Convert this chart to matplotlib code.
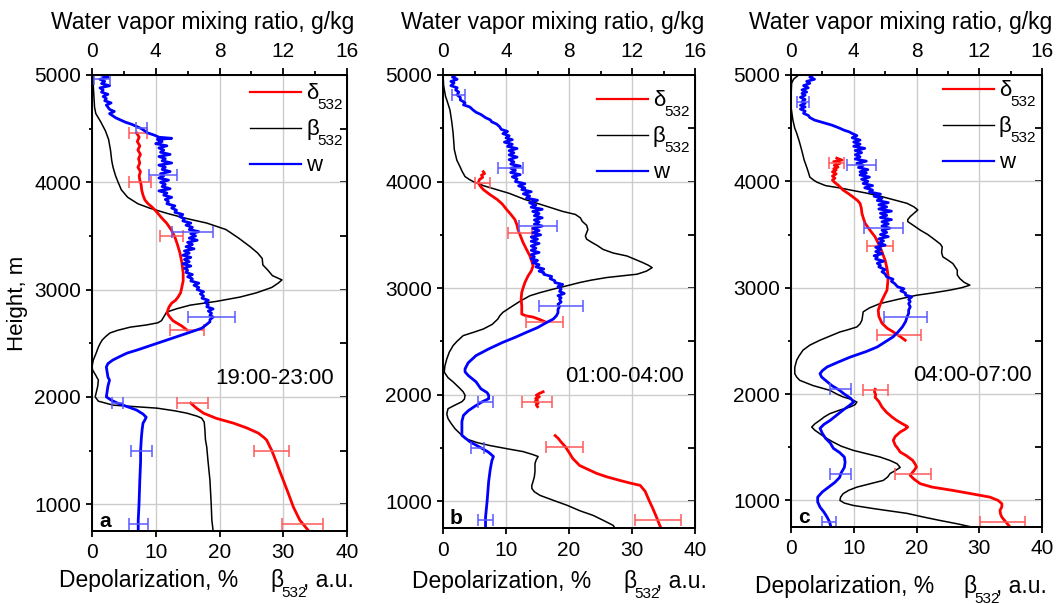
import matplotlib
matplotlib.use("Agg")
import matplotlib.pyplot as plt
from matplotlib.lines import Line2D

plt.rcParams['font.family'] = ['Liberation Sans', 'DejaVu Sans']

# ---------------- panel a (19:00-23:00) ----------------
a_beta_h = [5000, 4900, 4800, 4700, 4640, 4560, 4480, 4400, 4300, 4200, 4140, 4060, 4000, 3930, 3860, 3800,
            3760, 3710, 3660, 3620, 3560, 3480, 3400, 3340, 3290, 3230, 3180, 3130, 3090, 3060, 3020, 2970,
            2930, 2890, 2855, 2820, 2790, 2760, 2740, 2710, 2690, 2670, 2650, 2620, 2595, 2560, 2530, 2500,
            2464, 2400, 2343, 2280, 2250, 2200, 2156, 2100, 2050, 2000, 1960, 1923, 1895, 1870, 1848, 1820,
            1802, 1765, 1700, 1600, 1532, 1400, 1224, 1000, 851, 750]
a_beta = [0.2, 0.2, 0.3, 0.4, 0.6, 1.4, 2.1, 2.6, 2.9, 3.1, 3.3, 3.7, 4.1, 4.6, 5.6, 7.2,
          9.0, 11.8, 15.0, 18.0, 21.0, 23.0, 24.8, 26.0, 26.7, 26.8, 27.6, 28.3, 29.8, 29.2, 28.2, 25.8,
          23.2, 19.5, 15.4, 13.2, 11.7, 11.4, 11.2, 10.9, 10.3, 8.5, 6.0, 4.0, 2.8, 2.1, 1.6, 1.3,
          1.0, 0.6, 0.2, 0.0, 0.1, 0.6, 1.0, 0.9, 0.7, 0.5, 1.0, 3.3, 10.2, 13.0, 14.9, 16.5,
          17.2, 17.6, 17.7, 17.8, 18.0, 18.2, 18.5, 18.7, 18.8, 19.0]

a_dep1_h = [4459, 4420, 4380, 4340, 4300, 4260, 4220, 4180, 4140, 4100, 4060, 4021, 3980, 3928, 3880, 3835,
            3800, 3770, 3740, 3713, 3670, 3620, 3560, 3490, 3420, 3340, 3250, 3154, 3080, 3024, 2970, 2930,
            2900, 2874, 2840, 2809, 2780, 2744, 2710, 2688, 2660, 2623]
a_dep1 = [7.0, 7.4, 7.1, 7.5, 7.2, 7.6, 7.3, 7.5, 7.2, 7.6, 7.4, 7.5, 7.7, 7.8, 8.0, 8.3,
          8.8, 9.4, 9.9, 10.3, 10.9, 11.7, 12.4, 13.0, 13.4, 13.8, 14.1, 14.3, 14.3, 14.1, 13.9, 13.5,
          13.1, 12.5, 12.1, 11.9, 11.8, 12.2, 12.7, 13.3, 14.1, 14.9]
a_dep2_h = [1942, 1920, 1890, 1848, 1800, 1755, 1710, 1662, 1620, 1597, 1500, 1380, 1300, 1224, 1100, 972, 851, 750]
a_dep2 = [15.5, 15.9, 16.5, 17.5, 19.5, 22.2, 24.3, 26.1, 27.0, 27.4, 28.2, 29.0, 29.5, 30.0, 30.8, 31.6, 32.6, 34.0]

a_w_h = [5000, 4980, 4960, 4940, 4920, 4900, 4880, 4860, 4840, 4820, 4800, 4780, 4760, 4740, 4720, 4700,
         4680, 4660, 4640, 4620, 4600, 4580, 4560, 4540, 4520, 4500, 4480, 4460, 4440, 4420, 4410, 4400,
         4380, 4360, 4340, 4320, 4300, 4280, 4260, 4240, 4220, 4200, 4180, 4160, 4140, 4120, 4100, 4080,
         4060, 4040, 4020, 4000, 3980, 3960, 3940, 3920, 3900, 3880, 3860, 3840, 3820, 3800, 3780, 3760,
         3740, 3720, 3700, 3680, 3660, 3640, 3620, 3600, 3580, 3560, 3540, 3520, 3500, 3480, 3460, 3440,
         3420, 3400, 3380, 3360, 3340, 3320, 3300, 3280, 3260, 3240, 3220, 3200, 3180, 3160, 3140, 3120,
         3100, 3080, 3060, 3040, 3020, 3000, 2980, 2960, 2940, 2920, 2900, 2880, 2860, 2840, 2820, 2800,
         2780, 2760, 2744, 2720, 2700, 2688, 2665, 2641, 2620, 2595, 2560, 2530, 2500, 2464, 2440, 2408,
         2380, 2343, 2310, 2278, 2230, 2185, 2156, 2100, 2050, 2000, 1970, 1942, 1910, 1877, 1840, 1811,
         1780, 1755, 1700, 1625, 1500, 1400, 1224, 1000, 850, 750]
a_w = [0.6, 1.0, 0.5, 0.8, 0.6, 1.1, 0.5, 0.7, 0.6, 1.0, 0.7, 0.9, 0.8, 1.2, 0.9, 1.0,
       1.1, 1.4, 1.1, 1.3, 1.5, 1.8, 2.1, 2.5, 2.8, 3.1, 3.3, 3.5, 3.9, 4.2, 5.0, 4.1,
       4.4, 4.0, 4.7, 4.2, 4.5, 4.3, 4.9, 4.2, 4.6, 4.4, 5.0, 4.2, 4.6, 4.4, 4.9, 4.3,
       4.5, 4.2, 4.8, 4.3, 4.6, 4.4, 4.9, 4.2, 4.7, 4.5, 5.0, 4.6, 4.8, 4.7, 5.2, 5.0,
       5.3, 5.2, 5.7, 5.5, 5.8, 5.7, 6.2, 5.9, 6.3, 6.1, 6.7, 6.2, 6.5, 6.1, 6.6, 6.0,
       6.3, 5.9, 6.4, 5.8, 6.1, 5.7, 6.2, 5.8, 6.1, 5.7, 6.2, 5.8, 6.0, 5.9, 6.3, 6.0,
       6.3, 6.2, 6.7, 6.4, 6.7, 6.6, 7.0, 6.8, 7.0, 6.9, 7.3, 7.1, 7.3, 7.2, 7.6, 7.3,
       7.5, 7.4, 7.6, 7.4, 7.4, 7.3, 7.1, 6.9, 6.5, 6.0, 5.3, 4.7, 4.1, 3.4, 2.9, 2.2,
       1.8, 1.3, 1.0, 0.9, 0.95, 1.0, 1.1, 1.0, 0.95, 0.9, 1.2, 1.6, 2.2, 2.8, 3.2, 3.4,
       3.3, 3.2, 3.15, 3.1, 3.05, 3.05, 3.0, 2.95, 2.9, 2.9]

a_dep_err_h = [4459, 4000, 3500, 2623, 1942, 1494, 813]
a_dep_err_x = [7.2, 7.5, 12.5, 14.9, 15.8, 28.1, 33.0]
a_dep_err_dx = [1.4, 1.7, 1.8, 2.7, 2.4, 2.75, 3.2]
a_w_err_h = [4960, 4506, 4068, 3536, 2744, 1942, 1494, 813]
a_w_err_x = [0.6, 3.1, 4.45, 6.3, 7.5, 1.6, 3.1, 2.9]
a_w_err_dx = [0.5, 0.35, 0.87, 1.3, 1.45, 0.33, 0.65, 0.6]

# ---------------- panel b (01:00-04:00) ----------------
b_beta_h = [5000, 4900, 4800, 4766, 4673, 4557, 4457, 4299, 4200, 4140, 4100, 4047, 4019, 4000, 3960, 3925,
            3890, 3832, 3769, 3720, 3692, 3660, 3627, 3590, 3551, 3520, 3489, 3460, 3430, 3400, 3364, 3330,
            3302, 3270, 3240, 3215, 3193, 3160, 3131, 3100, 3075, 3053, 3020, 2991, 2960, 2929, 2880, 2835,
            2800, 2773, 2740, 2710, 2660, 2617, 2585, 2555, 2500, 2461, 2400, 2336, 2270, 2212, 2160, 2121,
            2070, 2028, 1995, 1960, 1935, 1900, 1869, 1820, 1776, 1730, 1682, 1630, 1589, 1550, 1523, 1490,
            1467, 1440, 1421, 1390, 1355, 1300, 1280, 1230, 1187, 1150, 1121, 1090, 1056, 1010, 963, 910,
            869, 820, 775, 750]
b_beta = [0.0, 0.1, 0.4, 0.6, 1.1, 1.4, 1.6, 1.8, 2.2, 2.7, 3.0, 3.5, 4.2, 4.8, 6.5, 8.5,
          10.5, 13.0, 16.4, 19.0, 21.0, 21.8, 22.1, 22.8, 23.0, 22.8, 22.6, 22.8, 23.6, 24.5, 25.4, 27.0,
          29.2, 30.5, 31.7, 32.6, 33.2, 32.3, 30.8, 26.0, 23.5, 21.7, 19.5, 17.5, 15.5, 13.8, 12.3, 11.1,
          10.2, 9.5, 9.0, 8.7, 7.8, 6.4, 4.8, 3.2, 2.2, 1.6, 1.0, 0.6, 0.3, 0.2, 0.8, 1.6,
          2.5, 3.2, 3.5, 3.4, 3.0, 1.8, 0.8, 0.6, 0.8, 1.3, 1.9, 2.8, 3.5, 5.5, 7.5, 10.5,
          12.7, 14.2, 15.1, 14.8, 14.6, 14.6, 14.6, 14.5, 14.3, 14.1, 14.1, 14.5, 15.4, 17.5, 19.7, 21.8,
          23.8, 25.5, 27.0, 27.3]

b_dep1_h = [4093, 4075, 4060, 4040, 4020, 3990, 3960, 3925, 3880, 3832, 3790, 3738, 3690, 3645, 3600, 3551,
            3490, 3430, 3370, 3302, 3250, 3208, 3160, 3115, 3053, 3000, 2960, 2900, 2835, 2790, 2757, 2740,
            2729, 2705, 2680]
b_dep1 = [6.4, 6.6, 6.1, 6.3, 5.8, 5.6, 5.9, 6.4, 7.4, 8.6, 9.4, 10.1, 10.8, 11.4, 11.7, 11.9,
          12.3, 12.7, 13.2, 13.8, 14.1, 14.3, 14.0, 13.5, 13.0, 12.7, 12.5, 12.4, 12.5, 12.5, 12.5, 13.2,
          14.3, 15.4, 16.4]
b_dep2_h = [2028, 2010, 1995, 1980, 1965, 1950, 1935, 1920, 1905, 1888]
b_dep2 = [15.9, 15.2, 14.8, 15.3, 14.7, 15.0, 14.6, 15.1, 14.8, 15.0]
b_dep3_h = [1617, 1590, 1560, 1514, 1460, 1402, 1336, 1300, 1262, 1230, 1196, 1170, 1150, 1093, 1010, 934,
            850, 775, 750]
b_dep3 = [17.8, 18.3, 18.7, 19.4, 20.0, 20.6, 21.7, 23.0, 24.4, 26.0, 28.1, 29.8, 31.3, 32.1, 32.7, 33.3,
          33.9, 34.4, 34.6]

b_w_h = [5000, 4980, 4960, 4940, 4925, 4900, 4880, 4860, 4840, 4813, 4790, 4766, 4740, 4720, 4700, 4673,
         4650, 4630, 4600, 4579, 4560, 4540, 4514, 4490, 4470, 4450, 4430, 4410, 4393, 4370, 4350, 4330,
         4310, 4290, 4270, 4250, 4230, 4206, 4185, 4165, 4145, 4125, 4105, 4085, 4065, 4045, 4025, 4000,
         3980, 3960, 3940, 3925, 3905, 3885, 3865, 3845, 3825, 3801, 3780, 3760, 3740, 3720, 3700, 3680,
         3660, 3640, 3620, 3600, 3583, 3560, 3540, 3520, 3500, 3480, 3460, 3440, 3420, 3396, 3375, 3355,
         3335, 3315, 3295, 3275, 3260, 3240, 3220, 3200, 3180, 3160, 3146, 3130, 3110, 3090, 3070, 3053,
         3035, 3015, 2991, 2970, 2950, 2930, 2910, 2897, 2870, 2850, 2830, 2800, 2770, 2741, 2710, 2680,
         2630, 2586, 2540, 2492, 2430, 2368, 2300, 2243, 2215, 2181, 2121, 2057, 2020, 1995, 1963, 1935,
         1890, 1850, 1807, 1750, 1680, 1620, 1560, 1520, 1495, 1460, 1421, 1380, 1300, 1187, 1000, 850, 750]
b_w = [0.8, 0.6, 0.9, 0.5, 0.7, 0.5, 0.9, 0.8, 1.0, 0.9, 1.1, 1.1, 1.4, 1.3, 1.7, 1.9,
       2.1, 2.4, 2.7, 3.0, 3.1, 3.4, 3.6, 3.7, 4.1, 3.8, 4.2, 4.0, 4.4, 3.9, 4.4, 4.1,
       4.7, 4.2, 4.5, 4.2, 4.7, 4.2, 4.5, 4.3, 4.9, 4.3, 4.6, 4.3, 4.9, 4.4, 4.7, 4.6,
       5.2, 4.8, 5.2, 5.0, 5.6, 5.1, 5.5, 5.3, 6.0, 5.5, 5.9, 5.6, 6.3, 5.7, 6.1, 5.8,
       6.3, 5.8, 6.1, 5.8, 6.3, 5.7, 6.1, 5.7, 6.2, 5.6, 6.0, 5.6, 6.1, 5.6, 5.9, 5.6,
       6.1, 5.6, 5.8, 5.6, 6.0, 5.7, 6.1, 5.9, 6.4, 6.1, 6.4, 6.4, 6.9, 6.8, 7.1, 7.1,
       7.6, 7.3, 7.5, 7.4, 7.7, 7.3, 7.5, 7.4, 7.5, 7.3, 7.4, 7.3, 7.3, 7.2, 7.0, 6.6,
       6.0, 5.3, 4.6, 3.8, 2.9, 2.1, 1.6, 1.4, 1.4, 1.6, 2.1, 2.4, 2.8, 2.9, 2.9, 2.5,
       2.0, 1.6, 1.3, 1.2, 1.2, 1.2, 1.7, 2.2, 2.5, 2.9, 3.2, 3.1, 3.0, 2.9, 2.8, 2.7, 2.7]

b_dep_err_h = [3990, 3520, 2680, 1935, 1514, 822]
b_dep_err_x = [6.3, 12.2, 16.1, 14.9, 19.3, 34.1]
b_dep_err_dx = [1.2, 1.9, 2.9, 2.4, 2.95, 3.6]
b_w_err_h = [4813, 4130, 3583, 2835, 1935, 1504, 822]
b_w_err_x = [1.0, 4.3, 6.05, 7.5, 2.7, 2.2, 2.7]
b_w_err_dx = [0.4, 0.8, 1.2, 1.4, 0.5, 0.4, 0.5]

# ---------------- panel c (04:00-07:00) ----------------
c_beta_h = [5000, 4960, 4922, 4800, 4700, 4576, 4500, 4454, 4380, 4294, 4200, 4134, 4080, 4040, 4012, 3993,
            3960, 3936, 3918, 3890, 3856, 3820, 3793, 3760, 3731, 3700, 3669, 3640, 3622, 3590, 3541, 3500,
            3447, 3410, 3384, 3330, 3290, 3260, 3227, 3165, 3120, 3086, 3050, 3024, 3000, 2977, 2950, 2929,
            2890, 2851, 2810, 2773, 2730, 2694, 2660, 2631, 2600, 2584, 2540, 2506, 2460, 2412, 2360, 2318,
            2250, 2192, 2160, 2129, 2080, 2035, 2000, 1973, 1950, 1925, 1900, 1878, 1850, 1816, 1785, 1753,
            1720, 1690, 1660, 1627, 1590, 1549, 1510, 1471, 1440, 1408, 1375, 1345, 1310, 1280, 1253, 1220,
            1188, 1155, 1125, 1095, 1063, 1030, 1000, 975, 953, 920, 878, 845, 812, 780, 750]
c_beta = [1.2, 0.4, 0.1, 0.0, 0.0, 0.3, 0.6, 0.9, 1.3, 1.7, 2.1, 2.5, 2.8, 3.0, 3.6, 4.1,
          5.5, 8.0, 9.5, 12.0, 14.5, 16.8, 18.5, 19.6, 20.2, 19.6, 19.0, 18.6, 18.6, 19.4, 20.6, 21.8,
          23.0, 23.8, 24.1, 24.0, 24.2, 25.0, 25.8, 26.5, 26.5, 26.9, 27.6, 28.5, 27.2, 25.3, 22.5, 20.0,
          17.0, 14.2, 12.5, 11.5, 11.4, 11.3, 11.0, 10.5, 8.8, 7.8, 6.0, 4.6, 3.0, 1.9, 1.3, 0.9,
          0.6, 0.6, 0.9, 1.4, 3.5, 6.2, 7.3, 8.3, 9.6, 10.5, 10.2, 9.4, 7.8, 6.2, 5.3, 4.6,
          3.8, 3.3, 3.8, 4.6, 5.5, 6.7, 8.0, 9.9, 12.0, 14.2, 15.8, 16.9, 17.4, 16.6, 15.8, 15.4,
          14.7, 12.5, 10.5, 9.2, 8.3, 7.9, 7.8, 8.5, 9.9, 13.5, 18.5, 21.0, 23.7, 26.5, 28.8]

c_dep1_h = [4218, 4200, 4185, 4169, 4150, 4134, 4118, 4106, 4090, 4070, 4050, 4030, 4012, 3993, 3960, 3918,
            3887, 3852, 3820, 3793, 3750, 3700, 3660, 3606, 3540, 3478, 3430, 3384, 3320, 3259, 3180, 3102,
            3040, 2977, 2930, 2882, 2840, 2788, 2730, 2666, 2620, 2584, 2545, 2506]
c_dep1 = [7.3, 8.1, 6.8, 7.8, 6.9, 7.5, 6.8, 7.2, 6.6, 7.2, 6.6, 7.0, 6.6, 6.9, 7.6, 8.3,
          9.1, 9.9, 10.6, 11.0, 11.2, 11.3, 11.5, 11.8, 12.6, 13.4, 13.8, 14.2, 14.6, 15.0, 15.3, 15.5,
          15.4, 15.3, 14.9, 14.5, 14.2, 13.9, 14.0, 14.5, 15.3, 16.3, 17.3, 18.2]
c_dep2_h = [2045, 2020, 1995, 1970, 1930, 1878, 1830, 1784, 1750, 1722, 1700, 1690, 1670, 1643, 1600, 1565,
            1520, 1490, 1455, 1420, 1376, 1340, 1314, 1280, 1260, 1235, 1200, 1157, 1125, 1094, 1060, 1031,
            1000, 969, 940, 906, 870, 843, 800, 750]
c_dep2 = [13.4, 13.3, 13.5, 13.4, 14.0, 14.5, 15.2, 16.1, 16.9, 17.7, 18.4, 18.6, 18.2, 17.4, 16.6, 16.3,
          16.6, 17.0, 17.4, 18.4, 19.4, 19.8, 20.0, 19.6, 19.3, 19.0, 19.6, 20.6, 22.5, 25.8, 29.0, 31.7,
          33.0, 33.6, 33.6, 33.3, 33.4, 33.6, 34.2, 34.9]

c_w_h = [5000, 4980, 4960, 4940, 4922, 4900, 4880, 4860, 4840, 4827, 4810, 4790, 4770, 4749, 4733, 4715,
         4700, 4680, 4660, 4640, 4620, 4600, 4576, 4555, 4529, 4500, 4480, 4466, 4450, 4430, 4410, 4388,
         4370, 4350, 4330, 4310, 4290, 4270, 4250, 4231, 4210, 4190, 4170, 4150, 4130, 4110, 4090, 4078,
         4060, 4040, 4020, 4000, 3980, 3960, 3940, 3918, 3900, 3880, 3860, 3840, 3820, 3800, 3780, 3760,
         3740, 3720, 3700, 3680, 3660, 3640, 3620, 3600, 3580, 3560, 3540, 3520, 3500, 3480, 3460, 3440,
         3419, 3400, 3380, 3360, 3340, 3320, 3300, 3290, 3270, 3250, 3230, 3210, 3196, 3170, 3150, 3130,
         3102, 3080, 3060, 3040, 3008, 2990, 2970, 2950, 2930, 2914, 2890, 2870, 2850, 2820, 2790, 2760,
         2725, 2680, 2631, 2580, 2537, 2490, 2443, 2400, 2349, 2300, 2255, 2220, 2192, 2160, 2129, 2080,
         2035, 2000, 1960, 1925, 1890, 1847, 1800, 1753, 1715, 1678, 1630, 1584, 1540, 1490, 1450, 1408,
         1360, 1310, 1260, 1216, 1170, 1125, 1080, 1031, 985, 937, 890, 843, 800, 750]
c_w = [1.4, 1.2, 1.5, 1.0, 1.2, 0.8, 1.1, 0.7, 1.0, 0.7, 0.9, 0.6, 0.9, 0.7, 0.9, 0.6,
       0.9, 0.6, 0.9, 0.8, 1.1, 1.2, 1.5, 2.0, 2.6, 3.1, 3.4, 3.7, 3.9, 4.2, 3.9, 4.4,
       4.0, 4.4, 4.0, 4.7, 4.1, 4.5, 4.1, 4.4, 4.1, 4.8, 4.2, 4.6, 4.3, 4.9, 4.4, 4.8,
       4.4, 5.0, 4.5, 4.9, 4.6, 5.2, 4.7, 5.2, 5.0, 5.7, 5.3, 5.8, 5.5, 6.2, 5.6, 6.1,
       5.6, 6.4, 5.7, 6.1, 5.7, 6.4, 5.8, 6.2, 5.8, 6.3, 5.8, 6.1, 5.7, 6.2, 5.6, 5.9,
       5.6, 6.0, 5.4, 5.7, 5.4, 5.8, 5.3, 5.5, 5.4, 5.9, 5.5, 5.7, 5.6, 6.0, 5.8, 6.0,
       6.1, 6.5, 6.4, 6.6, 6.8, 7.2, 7.0, 7.3, 7.3, 7.7, 7.5, 7.6, 7.5, 7.6, 7.5, 7.5,
       7.4, 7.3, 7.1, 6.8, 6.5, 6.0, 5.5, 4.8, 3.8, 3.0, 2.3, 2.0, 1.85, 1.95, 2.2, 2.6,
       3.1, 3.4, 3.8, 4.0, 3.7, 3.3, 2.9, 2.5, 2.1, 1.85, 2.0, 2.2, 2.5, 2.7, 3.1, 3.4,
       3.45, 3.4, 3.2, 3.1, 2.8, 2.4, 2.0, 1.7, 1.7, 1.85, 2.1, 2.3, 2.45, 2.55]

c_dep_err_h = [4169, 3394, 2553, 2035, 1245, 793]
c_dep_err_x = [7.3, 14.2, 17.2, 13.5, 19.4, 33.7]
c_dep_err_dx = [1.2, 2.1, 3.5, 2.0, 2.85, 3.6]
c_w_err_h = [4749, 4153, 3560, 2725, 2045, 1253, 793]
c_w_err_x = [0.77, 4.5, 5.9, 7.3, 3.15, 3.15, 2.45]
c_w_err_dx = [0.4, 0.9, 1.25, 1.4, 0.65, 0.65, 0.45]

W, H = 1056, 604
fig = plt.figure(figsize=(W / 100, H / 100), dpi=100)


def fx(x):
    return x / W


def fy(y):
    return 1 - y / H


def px(l, r, t, b):
    return [l / W, 1 - b / H, (r - l) / W, (b - t) / H]


def legend(x0, y0):
    # hand-made legend so that the subscripts sit low like in the original
    entries = [('red', 1.6, 'δ', '532', 0), ('black', 1.0, 'β', '532', 36), ('#0000ff', 1.6, 'w', None, 72)]
    for color, lw, main, sub, dy in entries:
        yl = y0 + dy
        fig.add_artist(Line2D([fx(x0), fx(x0 + 51)], [fy(yl), fy(yl)], color=color, linewidth=lw))
        fig.text(fx(x0 + 56), fy(yl + 7), main, fontsize=16, va='baseline', ha='left')
        if sub:
            fig.text(fx(x0 + 67), fy(yl + 17), sub, fontsize=11, va='baseline', ha='left')


def panel(rect, beta_h, beta, dep_segs, w_h, w, dep_err, w_err, time_label, letter, show_ylabel):
    ax = fig.add_axes(rect)
    ax.set_xlim(0, 40)
    ax.set_ylim(750, 5000)
    ax.set_xticks([0, 10, 20, 30, 40])
    ax.set_yticks([1000, 2000, 3000, 4000, 5000])
    ax.set_yticks([1500, 2500, 3500, 4500], minor=True)
    ax.grid(True, color='#cccccc', linewidth=1.0)
    ax.set_axisbelow(True)
    for s in ax.spines.values():
        s.set_linewidth(1.3)
    ax.tick_params(axis='x', which='major', direction='out', length=4, width=1.3, labelsize=15, pad=5)
    ax.tick_params(axis='y', which='major', direction='out', length=4, width=1.3, labelsize=15, pad=4)
    ax.tick_params(axis='y', which='minor', direction='out', length=2.5, width=1.3)
    right = ax.secondary_yaxis('right')
    right.set_yticks([1000, 2000, 3000, 4000, 5000])
    right.set_yticks([1500, 2500, 3500, 4500], minor=True)
    right.tick_params(which='both', direction='in', length=5, width=1.3, labelright=False)

    ax.plot(beta, beta_h, color='black', linewidth=1.1)
    for xs, hs in dep_segs:
        ax.plot(xs, hs, color='red', linewidth=2.0)
    ax.errorbar(dep_err[1], dep_err[0], xerr=dep_err[2], fmt='none', ecolor=(1, 0.35, 0.35),
                elinewidth=1.1, capsize=4, capthick=1.1)

    ax2 = ax.twiny()
    ax2.set_xlim(0, 16)
    ax2.set_xticks([0, 4, 8, 12, 16])
    ax2.set_xticks([2, 6, 10, 14], minor=True)
    ax2.tick_params(axis='x', which='major', direction='out', length=5, width=1.3, labelsize=15, pad=5)
    ax2.tick_params(axis='x', which='minor', direction='out', length=3, width=1.3)
    for s in ax2.spines.values():
        s.set_linewidth(1.3)
    ax2.plot(w, w_h, color='#0000ff', linewidth=2.0)
    ax2.errorbar(w_err[1], w_err[0], xerr=w_err[2], fmt='none', ecolor=(0.35, 0.35, 1),
                 elinewidth=1.1, capsize=4, capthick=1.1)

    ax.text(0.485, 0.335, time_label, transform=ax.transAxes, fontsize=16, va='center', ha='left')
    ax.text(0.027, 0.008, letter, transform=ax.transAxes, fontsize=15, fontweight='bold', va='baseline')
    if show_ylabel:
        ax.set_ylabel('Height, m', fontsize=16, labelpad=4)
    return ax


panel(px(92, 347, 75, 531), a_beta_h, a_beta, [(a_dep1, a_dep1_h), (a_dep2, a_dep2_h)], a_w_h, a_w,
      (a_dep_err_h, a_dep_err_x, a_dep_err_dx), (a_w_err_h, a_w_err_x, a_w_err_dx),
      '19:00-23:00', 'a', True)
panel(px(443, 695, 75, 528), b_beta_h, b_beta, [(b_dep1, b_dep1_h), (b_dep2, b_dep2_h), (b_dep3, b_dep3_h)],
      b_w_h, b_w, (b_dep_err_h, b_dep_err_x, b_dep_err_dx), (b_w_err_h, b_w_err_x, b_w_err_dx),
      '01:00-04:00', 'b', False)
panel(px(791, 1042, 75, 527), c_beta_h, c_beta, [(c_dep1, c_dep1_h), (c_dep2, c_dep2_h)], c_w_h, c_w,
      (c_dep_err_h, c_dep_err_x, c_dep_err_dx), (c_w_err_h, c_w_err_x, c_w_err_dx),
      '04:00-07:00', 'c', False)

legend(250, 92)
legend(597, 99)
legend(943, 89)

for cx in [203, 553, 901]:
    fig.text(fx(cx), fy(22), 'Water vapor mixing ratio, g/kg', fontsize=16.5, ha='center', va='center')
for lx, bx, base in [(59, 270, 587), (412, 623, 588), (755, 963, 593)]:
    fig.text(fx(lx), fy(base), 'Depolarization, %', fontsize=16.5, ha='left', va='baseline')
    fig.text(fx(bx), fy(base), 'β', fontsize=16.5, ha='left', va='baseline')
    fig.text(fx(bx + 11), fy(base + 10), '532', fontsize=11, ha='left', va='baseline')
    fig.text(fx(bx + 33), fy(base), ', a.u.', fontsize=16.5, ha='left', va='baseline')

fig.savefig('out.png', dpi=100)
